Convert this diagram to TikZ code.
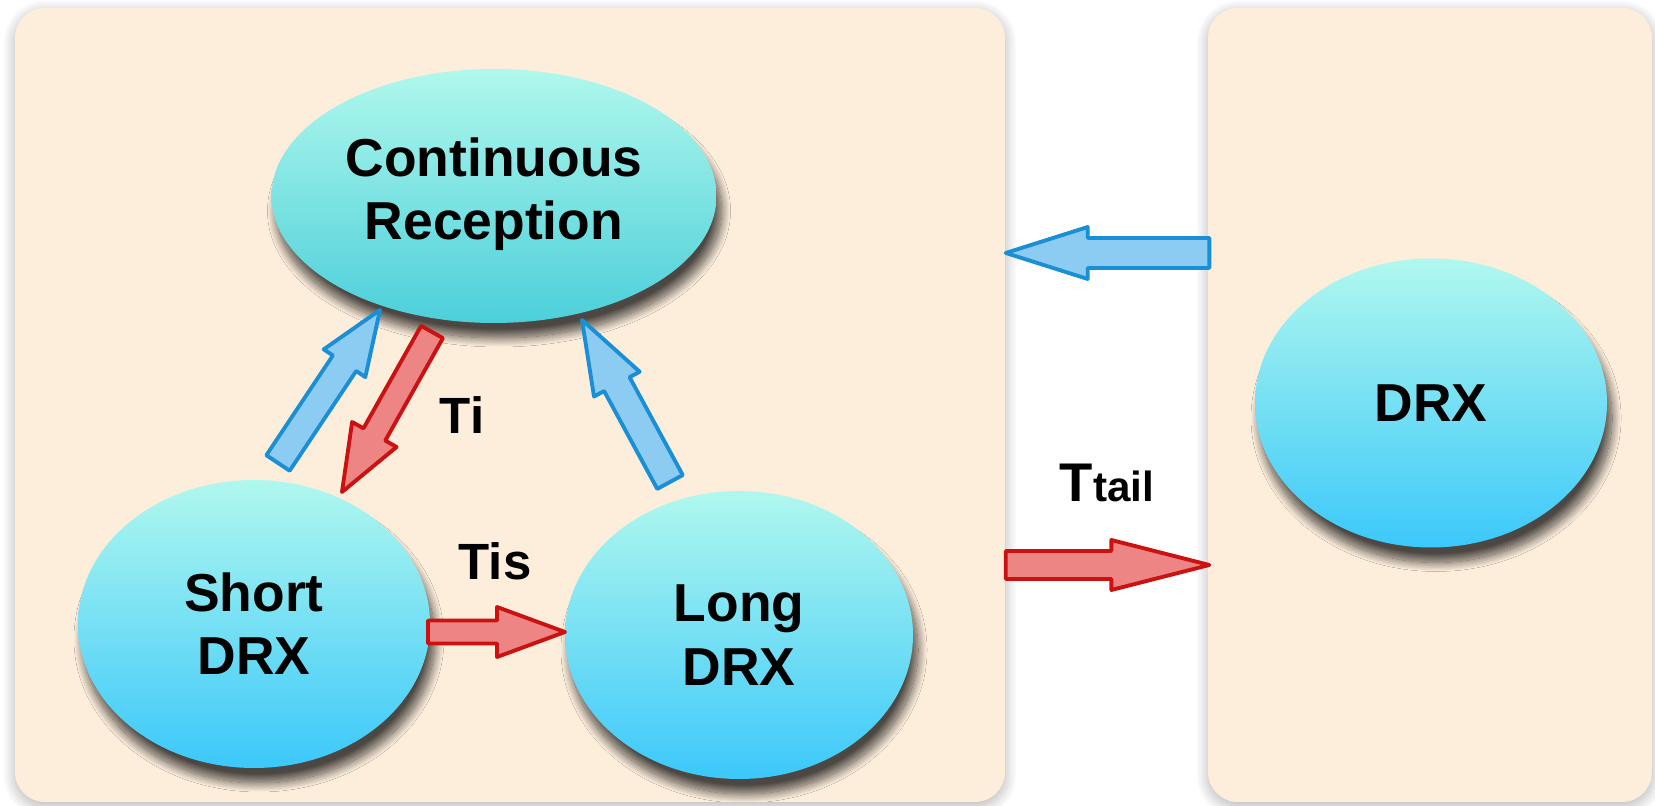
\documentclass[tikz,border=0pt]{standalone}
\usepackage{fontspec}
\setmainfont{Liberation Sans}
\usetikzlibrary{calc,shapes.geometric,shadows.blur}
\definecolor{panelbg}{HTML}{FDEEDC}
\definecolor{crtop}{HTML}{B0F8EC}
\definecolor{crbot}{HTML}{4CCFDA}
\definecolor{drxtop}{HTML}{B0F8EE}
\definecolor{drxbot}{HTML}{3CC8FA}
\definecolor{bluefill}{HTML}{8CCBF2}
\definecolor{blueline}{HTML}{1A8FD6}
\definecolor{redfill}{HTML}{EE8585}
\definecolor{redline}{HTML}{CC1111}
% fat arrow: style, from, to, half shaft, half head, head length
\newcommand{\fatarr}[6]{%
  \coordinate (fa-n) at ($(#3)!#6!(#2)$);
  \draw[#1] ($(#2)!#4!90:(#3)$) -- ($(fa-n)!#4!90:(#3)$) -- ($(fa-n)!#5!90:(#3)$)
    -- (#3) -- ($(fa-n)!#5!-90:(#3)$) -- ($(fa-n)!#4!-90:(#3)$)
    -- ($(#2)!#4!-90:(#3)$) -- cycle;}
\tikzset{
  panel/.style    = {rectangle, rounded corners=0.3cm, fill=panelbg, minimum height=7.94cm,
                     blur shadow={shadow xshift=0pt, shadow yshift=-0.4mm,
                     shadow blur radius=1.2mm, shadow blur steps=20, shadow opacity=30}},
  stateell/.style = {ellipse, inner sep=0pt, align=center,
                     font=\fontsize{15.2}{18}\selectfont\bfseries,
                     blur shadow={shadow xshift=0.5mm, shadow yshift=-1.5mm,
                     shadow blur radius=0.9mm, shadow blur steps=20, shadow opacity=70}},
  crfill/.style   = {top color=crtop, bottom color=crbot},
  drxfill/.style  = {top color=drxtop, bottom color=drxbot},
  bluearr/.style  = {fill=bluefill, draw=blueline, line width=1.1pt, line join=round},
  redarr/.style   = {fill=redfill, draw=redline, line width=1.1pt, line join=round},
  tlabel/.style   = {font=\fontsize{14.5}{17}\selectfont\bfseries, inner sep=0pt}
}
\begin{document}
\begin{tikzpicture}
  \useasboundingbox (0,0) rectangle (16.55,8.06);
  \node[panel, minimum width=9.9cm]  (lpanel) at (5.10,4.01) {};
  \node[panel, minimum width=4.44cm] (rpanel) at (14.30,4.01) {};

  \node[stateell, crfill, minimum width=4.45cm, minimum height=2.54cm]  (cr)   at (4.94,6.10)  {Continuous\\Reception\\[-0.49cm]};
  \node[stateell, drxfill, minimum width=3.52cm, minimum height=2.88cm] (sdrx) at (2.54,1.82)  {Short\\DRX};
  \node[stateell, drxfill, minimum width=3.48cm, minimum height=2.88cm] (ldrx) at (7.39,1.71)  {Long\\DRX};
  \node[stateell, drxfill, minimum width=3.52cm, minimum height=2.89cm] (drx)  at (14.31,4.03) {DRX};

  \coordinate (s2c-a) at (2.78,3.43); \coordinate (s2c-b) at (3.80,4.96);
  \coordinate (c2s-a) at (4.32,4.74); \coordinate (c2s-b) at (3.42,3.14);
  \coordinate (l2c-a) at (6.70,3.24); \coordinate (l2c-b) at (5.82,4.86);
  \coordinate (s2l-a) at (4.28,1.74); \coordinate (s2l-b) at (5.65,1.74);
  \coordinate (d2p-a) at ($(rpanel.west |- 0,5.53)+(0.02,0)$); \coordinate (d2p-b) at (lpanel.east |- 0,5.53);
  \coordinate (p2d-a) at (lpanel.east |- 0,2.41); \coordinate (p2d-b) at ($(rpanel.west |- 0,2.41)+(0.02,0)$);

  \fatarr{bluearr}{s2c-a}{s2c-b}{0.14cm}{0.25cm}{0.64cm}
  \fatarr{redarr}{c2s-a}{c2s-b}{0.125cm}{0.255cm}{0.66cm}
  \fatarr{bluearr}{l2c-a}{l2c-b}{0.145cm}{0.26cm}{0.73cm}
  \fatarr{redarr}{s2l-a}{s2l-b}{0.115cm}{0.25cm}{0.68cm}
  \fatarr{bluearr}{d2p-a}{d2p-b}{0.15cm}{0.26cm}{0.82cm}
  \fatarr{redarr}{p2d-a}{p2d-b}{0.14cm}{0.25cm}{0.98cm}

  \node[tlabel] (ti)    at (4.62,3.91)  {Ti};
  \node[tlabel] (tis)   at (4.95,2.45)  {Tis};
  \node[tlabel, font=\fontsize{15.5}{17}\selectfont\bfseries] (ttail) at (11.07,3.23)
       {T{\fontsize{12}{14}\selectfont tail}};
\end{tikzpicture}
\end{document}
